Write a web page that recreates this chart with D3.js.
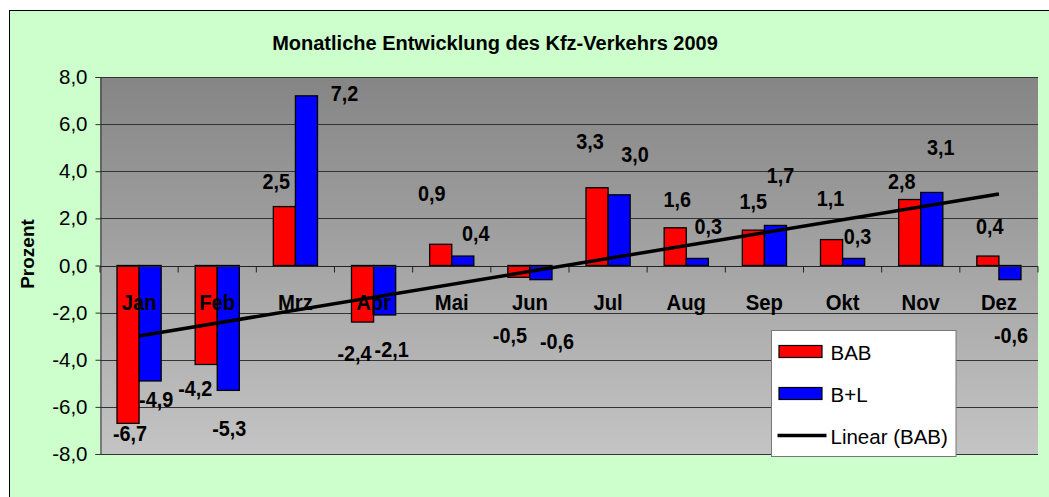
<!DOCTYPE html>
<html><head><meta charset="utf-8">
<script src="https://cdn.jsdelivr.net/npm/d3@7"></script>
<style>
html,body{margin:0;padding:0;background:#fff;}
svg{display:block;font-family:Arial,"Liberation Sans",sans-serif;}
</style></head>
<body>
<svg id="c" width="1049" height="497"></svg>
<script>
// ---- data ----
const months = ["Jan","Feb","Mrz","Apr","Mai","Jun","Jul","Aug","Sep","Okt","Nov","Dez"];
const bab = [-6.7,-4.2,2.5,-2.4,0.9,-0.5,3.3,1.6,1.5,1.1,2.8,0.4];
const bl  = [-4.9,-5.3,7.2,-2.1,0.4,-0.6,3.0,0.3,1.7,0.3,3.1,-0.6];
const yTicks = [-8,-6,-4,-2,0,2,4,6,8];
const seriesNames = ["BAB","B+L"];
const titleText = "Monatliche Entwicklung des Kfz-Verkehrs 2009";
const yTitle = "Prozent";
const trendName = "Linear (BAB)";

// ---- label layout (pixel offsets from bar end, as placed in the original) ----
const babLabelOff = [[2,18],[-11,32],[-8,-18],[-8,39],[-9,-43],[-9,66],[-7,-39],[2,-21],[0,-21],[-1,-34],[-8,-11],[2,-22]];
const blLabelOff  = [[6,26],[1,46],[38,5],[7,42],[13,-15],[16,69],[16,-33],[11,-24],[5,-42],[4,-14],[9,-37],[1,63]];

const svg = d3.select("#c");
const fmt = v => d3.format(".1f")(v).replace(".",",").replace("−","-");

function condense(sel, f){
  sel.each(function(){
    const w = this.getComputedTextLength();
    d3.select(this).attr("textLength", w*f).attr("lengthAdjust","spacingAndGlyphs");
  });
}

// chart background
svg.append("rect").attr("x",9.5).attr("y",10.5).attr("width",1100).attr("height",600)
  .attr("fill","#CCFFCC").attr("stroke","#000").attr("stroke-width",1);

const L=100, R=1038, T=77, B=454;
const x = d3.scaleBand().domain(months).range([L,R]).paddingInner(0).paddingOuter(0);
const inner = d3.scaleBand().domain(seriesNames).range([0,x.bandwidth()]).paddingInner(0).paddingOuter(0.77);
const y = d3.scaleLinear().domain([-8,8]).range([B,T]);

// gradient
const defs = svg.append("defs");
const grad = defs.append("linearGradient").attr("id","pg").attr("x1",0).attr("y1",0).attr("x2",0).attr("y2",1);
grad.append("stop").attr("offset","0%").attr("stop-color","#858585");
grad.append("stop").attr("offset","100%").attr("stop-color","#c4c4c4");
svg.append("rect").attr("x",L).attr("y",T).attr("width",R-L).attr("height",B-T).attr("fill","url(#pg)");

// gridlines
svg.append("g").selectAll("line").data(yTicks).join("line")
  .attr("x1",L).attr("x2",R).attr("y1",d=>Math.round(y(d))+0.5).attr("y2",d=>Math.round(y(d))+0.5)
  .attr("stroke","#333").attr("stroke-width",1);

// y axis
const yAxis = svg.append("g").attr("transform",`translate(${L+0.5},0)`)
  .call(d3.axisLeft(y).tickValues(yTicks).tickSize(5).tickPadding(8).tickFormat(fmt));
yAxis.select(".domain").attr("stroke","#333");
yAxis.selectAll(".tick line").attr("stroke","#333");
yAxis.selectAll("text").attr("font-size",20.5).attr("fill","#000").attr("font-family","Arial, 'Liberation Sans', sans-serif");

// bars
const colors = {"BAB":"#FF0000","B+L":"#0000FF"};
const series = [{name:"BAB",vals:bab},{name:"B+L",vals:bl}];
series.forEach(s=>{
  svg.append("g").selectAll("rect").data(s.vals).join("rect")
    .attr("x",(d,i)=>x(months[i])+inner(s.name))
    .attr("width",inner.bandwidth())
    .attr("y",d=>y(Math.max(0,d)))
    .attr("height",d=>Math.abs(y(d)-y(0)))
    .attr("fill",colors[s.name]).attr("stroke","#000").attr("stroke-width",1.3);
});

// x axis at zero
const xAxisG = svg.append("g").attr("transform",`translate(0,${Math.round(y(0))+0.5})`);
xAxisG.append("line").attr("x1",L).attr("x2",R).attr("stroke","#222");
const bounds = months.map(m=>x(m)).concat([R]);
xAxisG.selectAll("line.t").data(bounds).join("line").attr("class","t")
  .attr("x1",d=>d).attr("x2",d=>d).attr("y1",0).attr("y2",6).attr("stroke","#222");

// category labels
const cat = svg.append("g").selectAll("text").data(months).join("text")
  .attr("x",d=>x(d)+x.bandwidth()/2).attr("y",310).attr("text-anchor","middle")
  .attr("font-size",22.5).attr("font-weight","bold").attr("fill","#000").text(d=>d);
condense(cat,0.9);

// trend line (least squares on BAB)
const xs = bab.map((d,i)=>i+1);
const mx = d3.mean(xs), my = d3.mean(bab);
const slope = d3.sum(xs.map((xi,i)=>(xi-mx)*(bab[i]-my)))/d3.sum(xs.map(xi=>(xi-mx)*(xi-mx)));
const icpt = my - slope*mx;
const trendPts = [1,12].map(k=>[x(months[k-1])+x.bandwidth()/2, y(icpt+slope*k)]);
svg.append("path").attr("d",d3.line()(trendPts)).attr("stroke","#000").attr("stroke-width",3.5).attr("fill","none");

// data labels
function labels(s, offs){
  const g = svg.append("g").selectAll("text").data(s.vals).join("text")
    .attr("x",(d,i)=>x(months[i])+inner(s.name)+inner.bandwidth()/2+offs[i][0])
    .attr("y",(d,i)=>y(d)+offs[i][1])
    .attr("text-anchor","middle").attr("font-size",22.5).attr("font-weight","bold").attr("fill","#000")
    .text(fmt);
  condense(g,0.88);
}
labels(series[0],babLabelOff);
labels(series[1],blLabelOff);

// title
svg.append("text").attr("x",495).attr("y",50).attr("text-anchor","middle")
  .attr("font-size",20).attr("font-weight","bold").attr("fill","#000").text(titleText);

// y title
svg.append("text").attr("transform","translate(34,254) rotate(-90)").attr("text-anchor","middle")
  .attr("font-size",19).attr("font-weight","bold").attr("fill","#000").text(yTitle);

// legend
const lg = svg.append("g").attr("transform","translate(771.5,330.5)");
lg.append("rect").attr("width",184.5).attr("height",126).attr("fill","#fff").attr("stroke","#777").attr("stroke-width",1);
const items = [{name:"BAB",type:"bar"},{name:"B+L",type:"bar"},{name:trendName,type:"line"}];
const li = lg.selectAll("g.it").data(items).join("g").attr("class","it")
  .attr("transform",(d,i)=>`translate(0,${21+i*42})`);
li.filter(d=>d.type==="bar").append("rect").attr("x",7.5).attr("y",-6).attr("width",43).attr("height",12)
  .attr("fill",d=>colors[d.name]).attr("stroke","#000").attr("stroke-width",1.2);
li.filter(d=>d.type==="line").append("line").attr("x1",6).attr("x2",55).attr("y1",0).attr("y2",0)
  .attr("stroke","#000").attr("stroke-width",3.5);
li.append("text").attr("x",59).attr("y",8).attr("font-size",20.5).attr("fill","#000").text(d=>d.name);
</script>
</body></html>
